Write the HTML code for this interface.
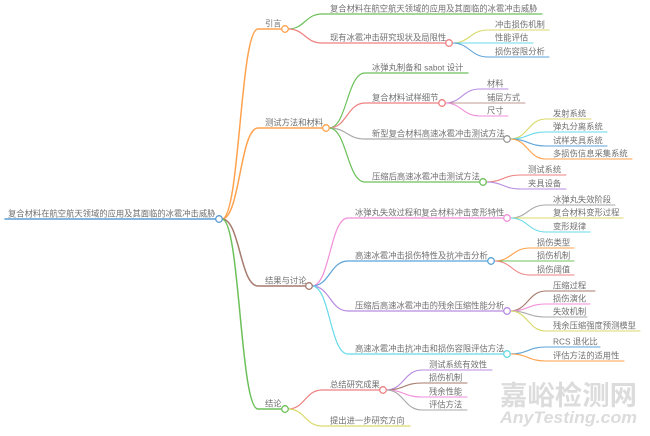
<!DOCTYPE html>
<html><head><meta charset="utf-8"><style>
html,body{margin:0;padding:0;background:#fff;}
svg{display:block;}
text{font-family:"Liberation Sans","Noto Sans CJK SC",sans-serif;font-size:8.3px;fill:#707070;}
</style></head><body>
<svg width="650" height="436" viewBox="0 0 650 436" xmlns="http://www.w3.org/2000/svg">
<g fill="none" stroke-linecap="round">
<path d="M5,219 L216,219" stroke="#5b9bd5" stroke-width="1.6"/>
<path d="M222,219 C240,219 240,29 258,29 L282,29" stroke="#ffa24d" stroke-width="1.5"/>
<path d="M222,219 C240,219 240,128 258,128 L323,128" stroke="#ffa24d" stroke-width="1.5"/>
<path d="M222,219 C240,219 240,286 258,286 L306,286" stroke="#a67b6e" stroke-width="1.5"/>
<path d="M222,219 C240,219 240,409 258,409 L282,409" stroke="#6cc05a" stroke-width="1.5"/>
<path d="M288,29 C305,29 305,14 322,14 L542,14" stroke="#6cc05a" stroke-width="1.2"/>
<path d="M288,29 C305,29 305,43 322,43 L446,43" stroke="#ee8080" stroke-width="1.2"/>
<path d="M452,43 C470,43 470,30 488,30 L549,30" stroke="#d9d96a" stroke-width="1.1"/>
<path d="M452,43 L533,43" stroke="#66d9e8" stroke-width="1.1"/>
<path d="M452,43 C470,43 470,57 488,57 L549,57" stroke="#5ba3d9" stroke-width="1.1"/>
<path d="M329,128 C347,128 347,73 365,73 L468,73" stroke="#6cc05a" stroke-width="1.2"/>
<path d="M329,128 C347,128 347,103 365,103 L439,103" stroke="#ee8080" stroke-width="1.2"/>
<path d="M329,128 C347,128 347,139 365,139 L504,139" stroke="#aaaaaa" stroke-width="1.2"/>
<path d="M329,128 C347,128 347,182 365,182 L480,182" stroke="#6cc05a" stroke-width="1.2"/>
<path d="M445,103 C462,103 462,89 480,89 L508,89" stroke="#b88be0" stroke-width="1.1"/>
<path d="M445,103 L525,103" stroke="#c09a90" stroke-width="1.1"/>
<path d="M445,103 C462,103 462,116 480,116 L508,116" stroke="#f08ed8" stroke-width="1.1"/>
<path d="M510,139 C528,139 528,119 546,119 L591,119" stroke="#d9d96a" stroke-width="1.1"/>
<path d="M510,139 C528,139 528,132 546,132 L607,132" stroke="#66d9e8" stroke-width="1.1"/>
<path d="M510,139 C528,139 528,146 546,146 L607,146" stroke="#5ba3d9" stroke-width="1.1"/>
<path d="M510,139 C528,139 528,159 546,159 L632,159" stroke="#ffa24d" stroke-width="1.1"/>
<path d="M486,182 C503,182 503,175 521,175 L566,175" stroke="#ee8080" stroke-width="1.1"/>
<path d="M486,182 C503,182 503,189 521,189 L566,189" stroke="#b88be0" stroke-width="1.1"/>
<path d="M312,286 C330,286 330,218 348,218 L504,218" stroke="#f08ed8" stroke-width="1.2"/>
<path d="M312,286 C330,286 330,261 348,261 L488,261" stroke="#5ba3d9" stroke-width="1.2"/>
<path d="M312,286 C330,286 330,311 348,311 L504,311" stroke="#b88be0" stroke-width="1.2"/>
<path d="M312,286 C330,286 330,354 348,354 L504,354" stroke="#66d9e8" stroke-width="1.2"/>
<path d="M510,218 C528,218 528,205 546,205 L615,205" stroke="#aaaaaa" stroke-width="1.1"/>
<path d="M510,218 L623,218" stroke="#d9d96a" stroke-width="1.1"/>
<path d="M510,218 C528,218 528,232 546,232 L590,232" stroke="#66d9e8" stroke-width="1.1"/>
<path d="M494,261 C512,261 512,248 530,248 L574,248" stroke="#ffa24d" stroke-width="1.1"/>
<path d="M494,261 L574,261" stroke="#6cc05a" stroke-width="1.1"/>
<path d="M494,261 C512,261 512,275 530,275 L574,275" stroke="#ee8080" stroke-width="1.1"/>
<path d="M510,311 C528,311 528,291 546,291 L595,291" stroke="#a67b6e" stroke-width="1.1"/>
<path d="M510,311 C528,311 528,304 546,304 L590,304" stroke="#f08ed8" stroke-width="1.1"/>
<path d="M510,311 C528,311 528,317 546,317 L587,317" stroke="#aaaaaa" stroke-width="1.1"/>
<path d="M510,311 C528,311 528,331 546,331 L640,331" stroke="#d9d96a" stroke-width="1.1"/>
<path d="M510,354 C528,354 528,347 546,347 L600,347" stroke="#5ba3d9" stroke-width="1.1"/>
<path d="M510,354 C528,354 528,361 546,361 L624,361" stroke="#ffa24d" stroke-width="1.1"/>
<path d="M288,409 C305,409 305,390 322,390 L380,390" stroke="#ee8080" stroke-width="1.2"/>
<path d="M288,409 C305,409 305,426 322,426 L410,426" stroke="#d9d96a" stroke-width="1.2"/>
<path d="M386,390 C404,390 404,370 422,370 L492,370" stroke="#b88be0" stroke-width="1.1"/>
<path d="M386,390 C404,390 404,383 422,383 L467,383" stroke="#a67b6e" stroke-width="1.1"/>
<path d="M386,390 C404,390 404,397 422,397 L467,397" stroke="#f08ed8" stroke-width="1.1"/>
<path d="M386,390 C404,390 404,410 422,410 L467,410" stroke="#aaaaaa" stroke-width="1.1"/>
</g>
<g fill="#fff" stroke-width="1.3">
<circle cx="219" cy="219" r="3.3" stroke="#5b9bd5"/>
<circle cx="285" cy="29" r="3.3" stroke="#ffa24d"/>
<circle cx="326" cy="128" r="3.3" stroke="#ffa24d"/>
<circle cx="309" cy="286" r="3.3" stroke="#a67b6e"/>
<circle cx="285" cy="409" r="3.3" stroke="#6cc05a"/>
<circle cx="449" cy="43" r="3.3" stroke="#ee8080"/>
<circle cx="442" cy="103" r="3.3" stroke="#ee8080"/>
<circle cx="507" cy="139" r="3.3" stroke="#999999"/>
<circle cx="483" cy="182" r="3.3" stroke="#6cc05a"/>
<circle cx="507" cy="218" r="3.3" stroke="#f08ed8"/>
<circle cx="491" cy="261" r="3.3" stroke="#5ba3d9"/>
<circle cx="507" cy="311" r="3.3" stroke="#b88be0"/>
<circle cx="507" cy="354" r="3.3" stroke="#66d9e8"/>
<circle cx="383" cy="390" r="3.3" stroke="#ee8080"/>
</g>
<g>
<text x="8" y="216.5">复合材料在航空航天领域的应用及其面临的冰雹冲击威胁</text>
<text x="265" y="26.5">引言</text>
<text x="265" y="125.5">测试方法和材料</text>
<text x="265" y="283.5">结果与讨论</text>
<text x="265" y="406.5">结论</text>
<text x="330" y="11.5">复合材料在航空航天领域的应用及其面临的冰雹冲击威胁</text>
<text x="330" y="40.5">现有冰雹冲击研究现状及局限性</text>
<text x="495" y="27.5">冲击损伤机制</text>
<text x="495" y="40.5">性能评估</text>
<text x="495" y="54.5">损伤容限分析</text>
<text x="372" y="70.5">冰弹丸制备和 sabot 设计</text>
<text x="372" y="100.5">复合材料试样细节</text>
<text x="372" y="136.5">新型复合材料高速冰雹冲击测试方法</text>
<text x="372" y="179.5">压缩后高速冰雹冲击测试方法</text>
<text x="487" y="86.5">材料</text>
<text x="487" y="100.5">铺层方式</text>
<text x="487" y="113.5">尺寸</text>
<text x="553" y="116.5">发射系统</text>
<text x="553" y="129.5">弹丸分离系统</text>
<text x="553" y="143.5">试样夹具系统</text>
<text x="553" y="156.5">多损伤信息采集系统</text>
<text x="528" y="172.5">测试系统</text>
<text x="528" y="186.5">夹具设备</text>
<text x="355" y="215.5">冰弹丸失效过程和复合材料冲击变形特性</text>
<text x="355" y="258.5">高速冰雹冲击损伤特性及抗冲击分析</text>
<text x="355" y="308.5">压缩后高速冰雹冲击的残余压缩性能分析</text>
<text x="355" y="351.5">高速冰雹冲击抗冲击和损伤容限评估方法</text>
<text x="553" y="202.5">冰弹丸失效阶段</text>
<text x="553" y="215.5">复合材料变形过程</text>
<text x="553" y="229.5">变形规律</text>
<text x="537" y="245.5">损伤类型</text>
<text x="537" y="258.5">损伤机制</text>
<text x="537" y="272.5">损伤阈值</text>
<text x="553" y="288.5">压缩过程</text>
<text x="553" y="301.5">损伤演化</text>
<text x="553" y="314.5">失效机制</text>
<text x="553" y="328.5">残余压缩强度预测模型</text>
<text x="553" y="344.5">RCS 退化比</text>
<text x="553" y="358.5">评估方法的适用性</text>
<text x="330" y="387.5">总结研究成果</text>
<text x="330" y="423.5">提出进一步研究方向</text>
<text x="429" y="367.5">测试系统有效性</text>
<text x="429" y="380.5">损伤机制</text>
<text x="429" y="394.5">残余性能</text>
<text x="429" y="407.5">评估方法</text>
</g>
<text x="500" y="405" textLength="137" lengthAdjust="spacingAndGlyphs" style="font-family:'Noto Sans CJK SC','WenQuanYi Zen Hei',sans-serif;font-size:27px;font-weight:bold;fill:#dcdcdc;">嘉峪检测网</text>
<text x="500" y="423" textLength="137" lengthAdjust="spacingAndGlyphs" style="font-family:'Liberation Sans',sans-serif;font-size:17px;font-weight:bold;font-style:italic;fill:#dcdcdc;">AnyTesting.com</text>
</svg>
</body></html>
